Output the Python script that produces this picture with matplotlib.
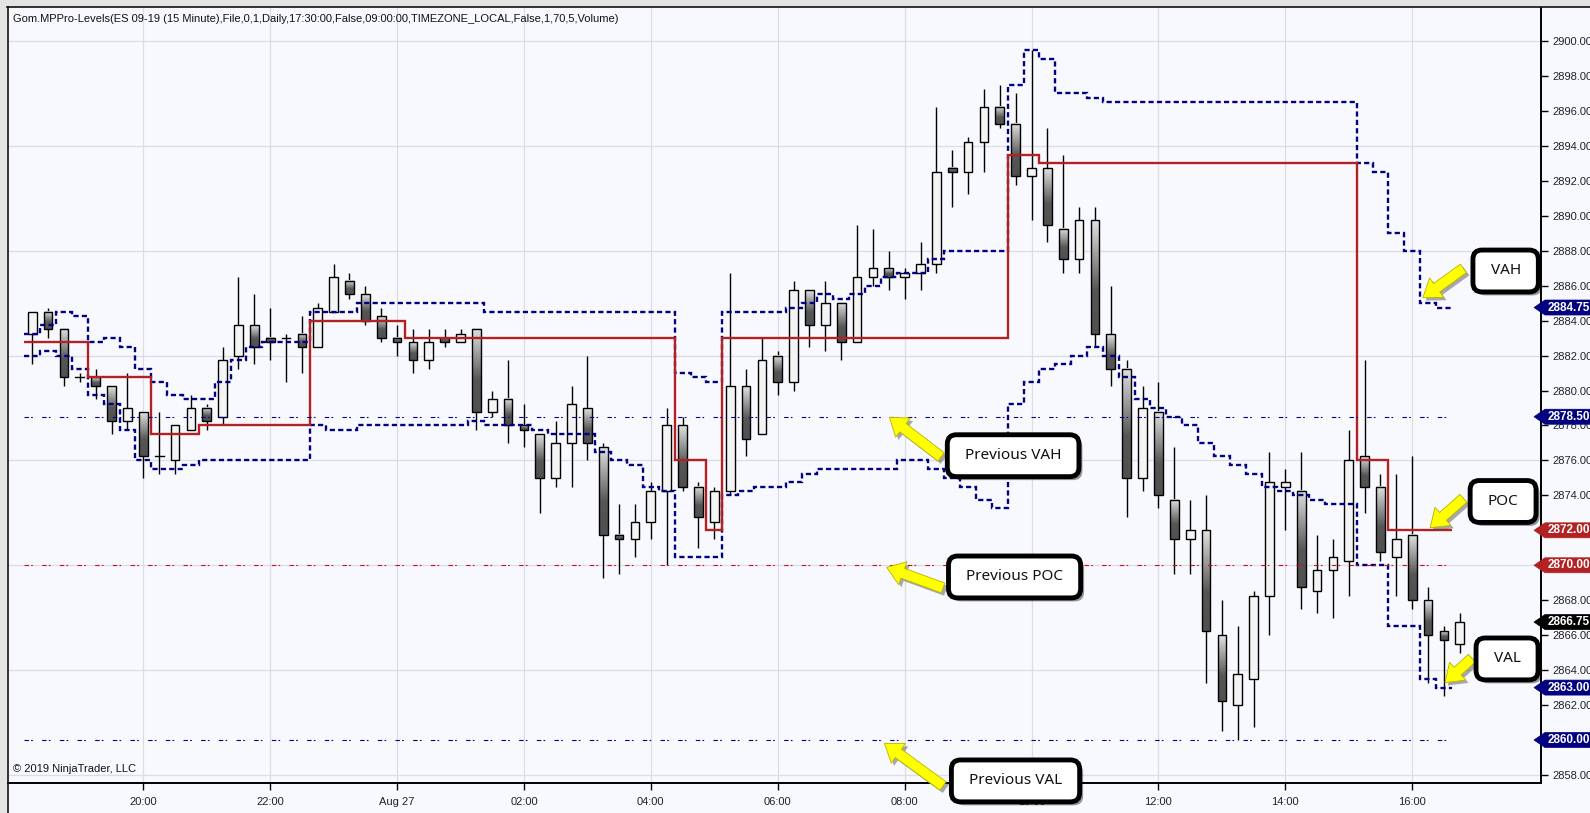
import numpy as np
import matplotlib
matplotlib.use("Agg")
import matplotlib.pyplot as plt
from matplotlib.patches import Rectangle, Polygon, BoxStyle
from matplotlib.lines import Line2D
import matplotlib.patheffects as pe
from matplotlib.colors import LinearSegmentedColormap
from matplotlib.transforms import blended_transform_factory

plt.rcParams['font.family'] = ['Liberation Sans', 'DejaVu Sans']

TITLE = "Gom.MPPro-Levels(ES 09-19 (15 Minute),File,0,1,Daily,17:30:00,False,09:00:00,TIMEZONE_LOCAL,False,1,70,5,Volume)"
COPYRIGHT = "\u00a9 2019 NinjaTrader, LLC"

# ---------------- data (15-minute bars) ----------------
opens = [2883.25, 2884.5, 2883.5, 2880.75, 2880.75, 2880.25, 2878.25, 2878.75, 2876.25, 2876.0,
         2877.75, 2879.0, 2878.5, 2882.0, 2883.75, 2883.0, 2883.0, 2883.25, 2882.5, 2884.5,
         2886.25, 2885.5, 2884.25, 2883.0, 2882.75, 2881.75, 2883.0, 2882.75, 2883.5, 2878.75,
         2879.5, 2878.0, 2877.5, 2875.0, 2877.0, 2879.0, 2876.75, 2871.75, 2871.5, 2872.5,
         2874.25, 2878.0, 2874.5, 2872.5, 2874.25, 2880.25, 2877.5, 2882.0, 2880.5, 2885.75,
         2883.75, 2885.0, 2882.75, 2886.5, 2887.0, 2886.5, 2886.75, 2887.25, 2892.75, 2892.5,
         2894.25, 2896.25, 2895.25, 2892.25, 2892.75, 2889.25, 2887.5, 2889.75, 2883.25, 2881.25,
         2875.0, 2878.75, 2873.75, 2871.5, 2872.0, 2866.0, 2862.0, 2863.5, 2868.25, 2874.5,
         2874.25, 2868.5, 2869.75, 2870.25, 2876.25, 2874.5, 2870.5, 2871.75, 2868.0, 2866.25,
         2865.5]
highs = [2884.5, 2884.75, 2883.5, 2881.0, 2881.25, 2880.25, 2881.0, 2878.75, 2878.75, 2878.0,
         2879.75, 2879.25, 2882.5, 2886.5, 2885.5, 2884.75, 2883.25, 2884.25, 2885.0, 2887.25,
         2886.75, 2886.0, 2884.75, 2883.75, 2883.5, 2883.5, 2883.5, 2883.5, 2883.5, 2880.0,
         2881.75, 2879.25, 2877.5, 2878.25, 2880.25, 2882.0, 2877.0, 2873.5, 2873.5, 2874.75,
         2879.0, 2878.5, 2874.75, 2874.5, 2886.75, 2881.25, 2883.0, 2882.25, 2886.25, 2885.75,
         2886.25, 2885.0, 2889.5, 2889.25, 2888.0, 2887.0, 2888.5, 2896.25, 2893.75, 2894.5,
         2897.25, 2897.5, 2897.0, 2899.5, 2895.0, 2893.5, 2890.5, 2890.5, 2886.0, 2881.75,
         2880.25, 2880.5, 2876.75, 2873.75, 2874.0, 2868.0, 2866.5, 2868.5, 2876.5, 2875.5,
         2876.5, 2871.75, 2871.5, 2877.75, 2881.75, 2875.25, 2875.25, 2876.25, 2868.75, 2866.5,
         2867.25]
lows = [2881.5, 2883.0, 2880.25, 2880.5, 2879.5, 2877.5, 2877.75, 2875.0, 2875.25, 2875.25,
        2877.75, 2877.75, 2878.0, 2881.25, 2881.5, 2881.75, 2880.5, 2881.0, 2882.5, 2884.5,
        2885.25, 2883.75, 2882.75, 2882.0, 2881.0, 2881.25, 2882.5, 2882.75, 2877.75, 2878.5,
        2877.0, 2876.75, 2873.0, 2874.5, 2874.5, 2876.0, 2869.25, 2869.5, 2870.5, 2871.5,
        2870.0, 2874.25, 2871.0, 2871.5, 2874.0, 2876.25, 2877.5, 2879.75, 2880.0, 2882.5,
        2882.25, 2881.75, 2882.75, 2886.0, 2885.75, 2885.25, 2885.75, 2886.75, 2890.5, 2891.25,
        2892.5, 2895.0, 2891.75, 2889.75, 2888.5, 2886.75, 2886.75, 2882.5, 2880.25, 2872.75,
        2874.25, 2873.25, 2869.5, 2869.5, 2863.25, 2860.5, 2860.0, 2860.75, 2866.0, 2872.0,
        2867.5, 2867.25, 2867.0, 2868.25, 2873.0, 2870.25, 2868.25, 2867.5, 2863.25, 2862.5,
        2865.0]
closes = [2884.5, 2883.5, 2880.75, 2880.75, 2880.25, 2878.25, 2879.0, 2876.25, 2876.25, 2878.0,
          2879.0, 2878.25, 2881.75, 2883.75, 2882.5, 2882.75, 2883.0, 2882.5, 2884.75, 2886.5,
          2885.5, 2884.0, 2883.0, 2882.75, 2881.75, 2882.75, 2882.75, 2883.25, 2878.75, 2879.5,
          2878.0, 2877.75, 2875.0, 2877.0, 2879.25, 2877.0, 2871.75, 2871.5, 2872.5, 2874.25,
          2878.0, 2874.5, 2872.75, 2874.25, 2880.25, 2877.25, 2881.75, 2880.5, 2885.75, 2883.75,
          2885.0, 2882.75, 2886.5, 2887.0, 2886.5, 2886.75, 2887.25, 2892.5, 2892.5, 2894.25,
          2896.25, 2895.25, 2892.25, 2892.75, 2889.5, 2887.5, 2889.75, 2883.25, 2881.25, 2875.0,
          2879.0, 2874.0, 2871.5, 2872.0, 2866.25, 2862.25, 2863.75, 2868.25, 2874.75, 2874.75,
          2868.75, 2869.75, 2870.5, 2876.0, 2874.5, 2870.75, 2871.5, 2868.0, 2866.0, 2865.75,
          2866.75]

# developing market-profile levels, one value per bar (bars 0..89)
poc = [2882.75, 2882.75, 2882.75, 2882.75, 2880.75, 2880.75, 2880.75, 2880.75, 2877.5, 2877.5,
       2877.5, 2878.0, 2878.0, 2878.0, 2878.0, 2878.0, 2878.0, 2878.0, 2884.0, 2884.0,
       2884.0, 2884.0, 2884.0, 2884.0, 2883.0, 2883.0, 2883.0, 2883.0, 2883.0, 2883.0,
       2883.0, 2883.0, 2883.0, 2883.0, 2883.0, 2883.0, 2883.0, 2883.0, 2883.0, 2883.0,
       2883.0, 2876.0, 2876.0, 2872.0, 2883.0, 2883.0, 2883.0, 2883.0, 2883.0, 2883.0,
       2883.0, 2883.0, 2883.0, 2883.0, 2883.0, 2883.0, 2883.0, 2883.0, 2883.0, 2883.0,
       2883.0, 2883.0, 2893.5, 2893.5, 2893.0, 2893.0, 2893.0, 2893.0, 2893.0, 2893.0,
       2893.0, 2893.0, 2893.0, 2893.0, 2893.0, 2893.0, 2893.0, 2893.0, 2893.0, 2893.0,
       2893.0, 2893.0, 2893.0, 2893.0, 2876.0, 2876.0, 2872.0, 2872.0, 2872.0, 2872.0]
vah = [2883.25, 2883.75, 2884.5, 2884.25, 2882.75, 2883.0, 2882.5, 2881.25, 2880.5, 2879.75,
       2879.5, 2879.5, 2880.5, 2881.75, 2882.5, 2882.75, 2882.75, 2882.75, 2884.5, 2884.5,
       2884.5, 2885.0, 2885.0, 2885.0, 2885.0, 2885.0, 2885.0, 2885.0, 2885.0, 2884.5,
       2884.5, 2884.5, 2884.5, 2884.5, 2884.5, 2884.5, 2884.5, 2884.5, 2884.5, 2884.5,
       2884.5, 2881.0, 2880.75, 2880.5, 2884.5, 2884.5, 2884.5, 2884.5, 2884.75, 2885.0,
       2885.5, 2885.25, 2885.5, 2886.0, 2886.5, 2886.75, 2886.75, 2887.5, 2888.0, 2888.0,
       2888.0, 2888.0, 2897.5, 2899.5, 2899.0, 2897.0, 2897.0, 2896.75, 2896.5, 2896.5,
       2896.5, 2896.5, 2896.5, 2896.5, 2896.5, 2896.5, 2896.5, 2896.5, 2896.5, 2896.5,
       2896.5, 2896.5, 2896.5, 2896.5, 2893.0, 2892.5, 2889.0, 2888.0, 2885.0, 2884.75]
val = [2882.0, 2882.25, 2882.0, 2881.25, 2879.75, 2879.25, 2877.75, 2876.0, 2875.5, 2875.5,
       2875.75, 2876.0, 2876.0, 2876.0, 2876.0, 2876.0, 2876.0, 2876.0, 2878.0, 2877.75,
       2877.75, 2878.0, 2878.0, 2878.0, 2878.0, 2878.0, 2878.0, 2878.0, 2878.25, 2878.0,
       2878.0, 2878.0, 2877.75, 2877.5, 2877.5, 2877.5, 2876.5, 2876.0, 2875.75, 2874.5,
       2874.25, 2870.5, 2870.5, 2870.5, 2874.0, 2874.25, 2874.5, 2874.5, 2874.75, 2875.25,
       2875.5, 2875.5, 2875.5, 2875.5, 2875.5, 2876.0, 2876.0, 2875.5, 2875.0, 2874.5,
       2873.75, 2873.25, 2879.25, 2880.5, 2881.25, 2881.5, 2882.0, 2882.5, 2882.0, 2880.75,
       2879.5, 2879.0, 2878.5, 2878.0, 2877.0, 2876.25, 2875.75, 2875.25, 2874.5, 2874.25,
       2874.0, 2873.75, 2873.5, 2873.5, 2870.0, 2870.0, 2866.5, 2866.5, 2863.5, 2863.0]

prev_vah = 2878.50
prev_poc = 2870.00
prev_val = 2860.00

time_tick_bars = [7, 15, 23, 31, 39, 47, 55, 63, 71, 79, 87]
time_tick_labels = ["20:00", "22:00", "Aug 27", "02:00", "04:00", "06:00",
                    "08:00", "10:00", "12:00", "14:00", "16:00"]
price_ticks = [2858, 2860, 2862, 2864, 2866, 2868, 2870, 2872, 2874, 2876, 2878,
               2880, 2882, 2884, 2886, 2888, 2890, 2892, 2894, 2896, 2898, 2900]
grid_prices = [2858, 2864, 2870, 2876, 2882, 2888, 2894, 2900]

marker_prices = [2884.75, 2878.50, 2872.00, 2870.00, 2866.75, 2863.00, 2860.00]
marker_kinds = ["vah", "prev_vah", "poc", "prev_poc", "last", "val", "prev_val"]

# callouts: text, box centre, arrow tip, arrow tail  (bar index, price)
callouts = [
    ("VAH", (92.89, 2886.84), (87.67, 2885.31), (90.23, 2886.99)),
    ("POC", (92.73, 2873.65), (88.13, 2872.15), (90.23, 2873.83)),
    ("VAL", (92.98, 2864.64), (89.07, 2863.28), (90.76, 2864.68)),
    ("Previous VAH", (61.84, 2876.27), (54.04, 2878.47), (57.30, 2876.20)),
    ("Previous POC", (61.93, 2869.33), (53.87, 2869.88), (57.42, 2868.70)),
    ("Previous VAL", (61.99, 2857.66), (53.73, 2859.81), (57.42, 2857.37)),
]

# ---------------- styling ----------------
W, H = 1590, 813
BG = "#F8F9FE"
NAVY = "#000080"
RED = "#B22222"
kind_colors = {"vah": NAVY, "prev_vah": NAVY, "val": NAVY, "prev_val": NAVY,
               "poc": RED, "prev_poc": RED, "last": "#000000"}

fig = plt.figure(figsize=(W / 100, H / 100), dpi=100, facecolor=BG)
ax = fig.add_axes([8 / W, 30 / H, (1541 - 8) / W, 775 / H])
ax.set_facecolor(BG)

XLIM = (-1.53, 95.12)
YLIM = (2857.54, 2901.89)

# grid
for p in grid_prices:
    ax.axhline(p, color="#DCDCE2", lw=0.9, zorder=0)
for b in time_tick_bars:
    ax.axvline(b, color="#DCDCE2", lw=0.9, zorder=0)

# candles
down_cmap = LinearSegmentedColormap.from_list(
    "down", [(0.0, "#E2E2E2"), (0.62, "#565656"), (1.0, "#505050")])
grad = np.linspace(0, 1, 128).reshape(-1, 1)
bw = 0.55
n = len(opens)
for i in range(n):
    o, h, l, c = opens[i], highs[i], lows[i], closes[i]
    ax.plot([i, i], [l, h], color="black", lw=1.0, zorder=3, solid_capstyle="butt")
    if c > o:
        ax.add_patch(Rectangle((i - bw / 2, o), bw, c - o, fc="#F4F4F4",
                               ec="black", lw=1.0, zorder=4))
    elif c < o:
        ax.imshow(grad, extent=(i - bw / 2, i + bw / 2, c, o), aspect="auto",
                  cmap=down_cmap, vmin=0, vmax=1, zorder=4, interpolation="bilinear")
        ax.add_patch(Rectangle((i - bw / 2, c), bw, o - c, fc="none",
                               ec="black", lw=1.0, zorder=5))
    else:
        ax.plot([i - bw / 2, i + bw / 2], [o, o], color="black", lw=1.0, zorder=5)

# profile level step lines
edges = np.arange(len(poc) + 1) - 0.5
ax.stairs(vah, edges, baseline=None, color=NAVY, lw=1.7,
          linestyle=(0, (2.2, 1.35)), zorder=6)
ax.stairs(val, edges, baseline=None, color=NAVY, lw=1.7,
          linestyle=(0, (2.2, 1.35)), zorder=6)
ax.stairs(poc, edges, baseline=None, color=RED, lw=1.7, zorder=6)

# previous-session levels
dd = (0, (4, 2, 1.5, 8.4))
ax.hlines(prev_vah, edges[0], edges[-1], color=NAVY, lw=0.8, linestyle=dd, zorder=6)
ax.hlines(prev_poc, edges[0], edges[-1], color="#CC1111", lw=0.8, linestyle=dd, zorder=6)
ax.hlines(prev_val, edges[0], edges[-1], color=NAVY, lw=0.8, linestyle=dd, zorder=6)

ax.set_xlim(*XLIM)
ax.set_ylim(*YLIM)

# axes / ticks
for s in ["left", "top"]:
    ax.spines[s].set_visible(False)
for s in ["right", "bottom"]:
    ax.spines[s].set_color("black")
    ax.spines[s].set_linewidth(1.4)
ax.yaxis.tick_right()
ax.set_yticks(price_ticks)
ax.set_yticklabels(["%.2f" % p for p in price_ticks])
ax.set_xticks(time_tick_bars)
ax.set_xticklabels(time_tick_labels)
ax.tick_params(axis="y", direction="out", length=5, width=1, pad=3,
               labelsize=8, labelcolor="#222222", color="black")
ax.tick_params(axis="x", direction="out", length=5, width=1, pad=5,
               labelsize=8, labelcolor="#222222", color="black")

# callouts
def callout_box(x0, y0, width, height, mutation_size):
    padx = 1.15 * mutation_size
    pady = 0.88 * mutation_size
    rs = BoxStyle.Round(pad=0, rounding_size=0.6)
    return rs(x0 - padx, y0 - pady, width + 2 * padx, height + 2 * pady, mutation_size)

for text, centre, tip, tail in callouts:
    arr = ax.annotate("", xy=tip, xytext=tail, xycoords="data", textcoords="data",
                      arrowprops=dict(arrowstyle="simple,head_length=0.85,head_width=1.2,tail_width=0.52",
                                      mutation_scale=14.5, fc="#FFFF00", ec="#B5B500", lw=0.6,
                                      shrinkA=0, shrinkB=0),
                      annotation_clip=False, zorder=9)
    arr.arrow_patch.set_path_effects([pe.SimplePatchShadow(offset=(2, -2), shadow_rgbFace="#444444", alpha=0.45),
                                      pe.Normal()])
    t = ax.text(centre[0], centre[1], text, ha="center", va="center", fontsize=11,
                family=["Noto Sans", "DejaVu Sans"], color="#111111", zorder=10, clip_on=False,
                bbox=dict(boxstyle=callout_box, fc="white", ec="black", lw=3.5))
    t.get_bbox_patch().set_path_effects([pe.SimplePatchShadow(offset=(2.5, -2.5), shadow_rgbFace="black", alpha=0.4),
                                         pe.Normal()])

# price markers on the right axis
ppu = ax.bbox.height / (YLIM[1] - YLIM[0])
trans = blended_transform_factory(fig.transFigure, ax.transData)
hh = 7.5 / ppu
for price, kind in zip(marker_prices, marker_kinds):
    col = kind_colors[kind]
    verts = [(1534 / W, price), (1545 / W, price + hh), (1.0, price + hh),
             (1.0, price - hh), (1545 / W, price - hh)]
    fig.add_artist(Polygon(verts, closed=True, transform=trans, fc=col, ec=col,
                           lw=0.5, clip_on=False, zorder=20))
    fig.text(1548 / W, price, "%.2f" % price, transform=trans, ha="left", va="center",
             fontsize=8.5, fontweight="bold", color="white", zorder=21)

# window frame
fig.add_artist(Rectangle((0, 1 - 7 / H), 1, 7 / H, transform=fig.transFigure,
                         fc="#E4E4E4", ec="none", zorder=30))
fig.add_artist(Rectangle((0, 0), 7 / W, 1, transform=fig.transFigure,
                         fc="#E4E4E4", ec="none", zorder=30))
fig.add_artist(Line2D([7 / W, 1], [1 - 7.5 / H, 1 - 7.5 / H], transform=fig.transFigure,
                      color="#111111", lw=1.2, zorder=31))
fig.add_artist(Line2D([7.5 / W, 7.5 / W], [0, 1 - 7 / H], transform=fig.transFigure,
                      color="#111111", lw=1.2, zorder=31))

fig.text(13 / W, 1 - 18.5 / H, TITLE, fontsize=8, va="center", ha="left", color="#111111")
fig.text(13 / W, 1 - 769 / H, COPYRIGHT, fontsize=8, va="center", ha="left", color="#111111")

fig.savefig("out.png", dpi=100, facecolor=BG)
